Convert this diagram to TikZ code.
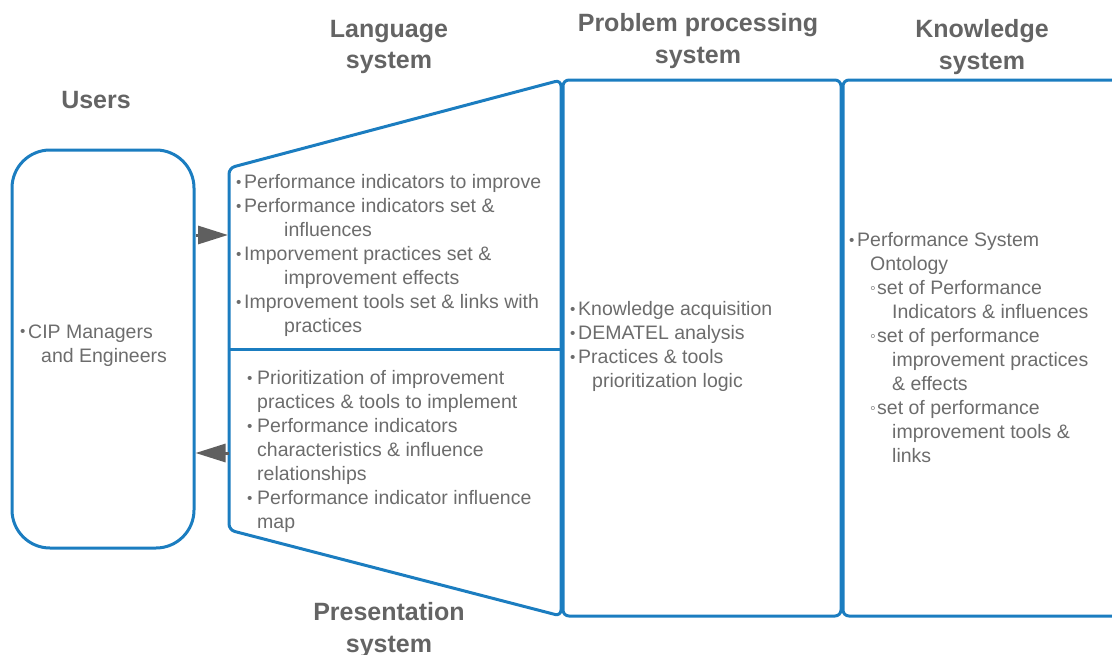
\documentclass[tikz,border=0pt]{standalone}
\usepackage{fontspec}
\setmainfont{Liberation Sans}
\usepackage{xcolor}
\usepackage{graphicx}
\usetikzlibrary{arrows.meta, positioning}
\definecolor{boxblue}{RGB}{27,125,192}
\definecolor{txtgray}{RGB}{108,108,108}
\definecolor{headgray}{RGB}{100,100,100}
\definecolor{tipgray}{RGB}{95,95,95}
\tikzstyle{heading} = [align=center, text=headgray, font=\fontsize{25}{31.5}\selectfont\bfseries, inner sep=0pt]
\tikzstyle{items} = [align=left, anchor=north west, text=txtgray, font=\fontsize{19.5}{24}\selectfont, inner sep=0pt]
\tikzstyle{frame} = [draw=boxblue, line width=3pt, rounded corners=6pt]
\tikzstyle{userbox} = [rectangle, draw=boxblue, line width=3pt, rounded corners=38pt, minimum width=182pt, minimum height=398pt]
\tikzstyle{arrow} = [line width=3pt, draw=tipgray, -{Triangle[length=30pt, width=18pt]}]
\newcommand{\itm}[1][8]{\makebox[#1pt][l]{\raisebox{1.8pt}{\scalebox{0.78}{\textbullet}}}}
\newcommand{\subitm}{\makebox[7pt][l]{\raisebox{1.4pt}{\scalebox{0.82}{◦}}}}
\newcommand{\ind}[1]{\hspace*{#1pt}}

\begin{document}
\begin{tikzpicture}[x=1pt, y=-1pt]
	\useasboundingbox (0,0) rectangle (1112,654);
	% headings
	\node (hUsers) [heading] at (96,100) {Users};
	\node (hLang) [heading] at (389,47) {Language\\system};
	\node (hProb) [heading] at (698,41) {Problem processing\\system};
	\node (hKnow) [heading] at (982,47) {Knowledge\\system};
	\node (hPres) [heading] at (389,630) {Presentation\\system};
	% boxes
	\node (users) [userbox] at (103,349) {};
	\coordinate (lt) at (229,168);
	\coordinate (rt) at (561,80);
	\coordinate (rb) at (561,616);
	\coordinate (lb) at (229,530);
	\draw [frame] (lt) -- (rt) -- (rb) -- (lb) -- cycle;
	\draw [boxblue, line width=3pt] (229,349) -- (561,349);
	\draw [frame] (563,80) rectangle (841,616);
	\draw [frame] (843,80) rectangle (1140,616);
	% arrows
	\coordinate (langin) at (228,235);
	\coordinate (presout) at (229,453);
	\draw [arrow] (users.east |- langin) -- (langin);
	\draw [arrow] (presout) -- (users.east |- presout);
	% texts
	\node (uText) [items] at (20,324.5) {\itm CIP Managers\\\ind{21}and Engineers};
	\node (lText) [items] at (236,174.5) {\itm Performance indicators to improve\\
		\itm Performance indicators set \&\\\ind{48}influences\\
		\itm Imporvement practices set \&\\\ind{48}improvement effects\\
		\itm Improvement tools set \& links with\\\ind{48}practices};
	\node (pText) [items] at (247,370.5) {\itm[10]Prioritization of improvement\\\ind{10}practices \& tools to implement\\
		\itm[10]Performance indicators\\\ind{10}characteristics \& influence\\\ind{10}relationships\\
		\itm[10]Performance indicator influence\\\ind{10}map};
	\node (ppText) [items] at (570,301.5) {\itm Knowledge acquisition\\
		\itm DEMATEL analysis\\
		\itm Practices \& tools\\\ind{22}prioritization logic};
	\node (kText) [items] at (849,232.5) {\itm Performance System\\\ind{21}Ontology\\
		\ind{21}\subitm set of Performance\\\ind{43}Indicators \& influences\\
		\ind{21}\subitm set of performance\\\ind{43}improvement practices\\\ind{43}\& effects\\
		\ind{21}\subitm set of performance\\\ind{43}improvement tools \&\\\ind{43}links};
\end{tikzpicture}
\end{document}
